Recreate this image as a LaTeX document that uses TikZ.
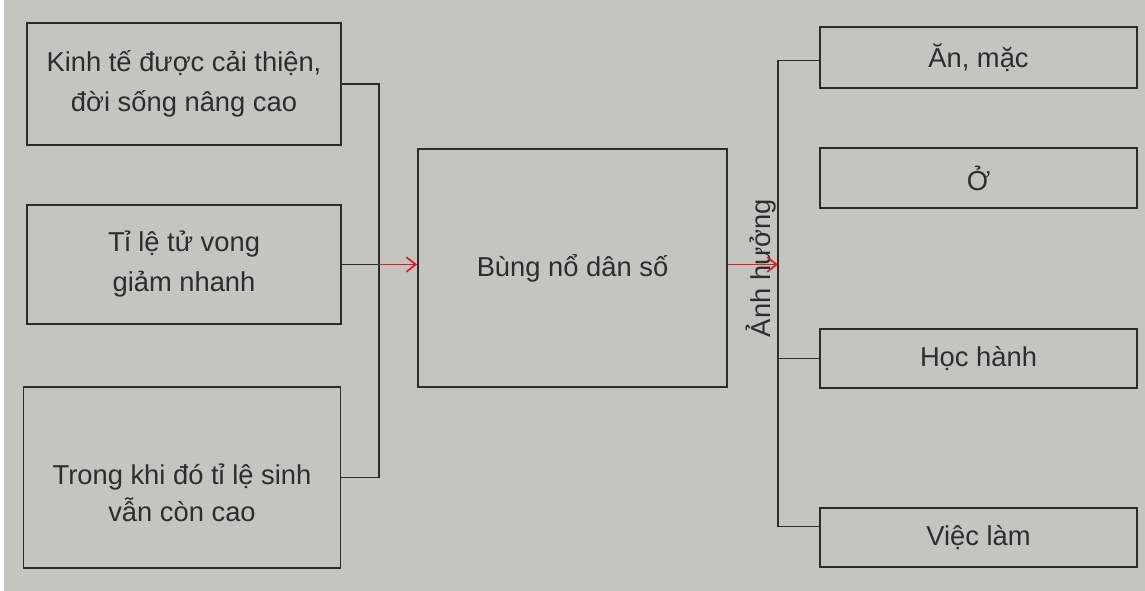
\documentclass[tikz,border=0pt]{standalone}
\usepackage{fontspec}
\setmainfont{Liberation Sans}
\usepackage{tikz}
\usetikzlibrary{calc}
\usetikzlibrary{arrows.meta}

\definecolor{paper}{RGB}{197,197,192}
\definecolor{ink}{RGB}{45,45,45}
\definecolor{arrowred}{RGB}{225,30,30}

\begin{document}
\begin{tikzpicture}[x=0.75pt,y=-0.75pt,
    box/.style 2 args={rectangle,draw=ink,line width=1.4pt,align=center,inner sep=0pt,
                minimum width=0.75pt*#1,minimum height=0.75pt*#2,
                font=\fontsize{20.5}{30}\selectfont,text=ink},
    link/.style={draw=ink,line width=1.1pt},
    push/.style={draw=arrowred,line width=1.3pt,-{Straight Barb[length=7pt,width=11pt]}}]
            % Paper background
            \fill[white] (0,0) rectangle (1145,591);
            \fill[paper] (4,0) rectangle (1145,591);
            \useasboundingbox (0,0) rectangle (1145,591);

            % Place the causes
            \node[box={314}{122}] (kinhte) at (184,84) {Kinh tế được cải thiện,\\đời sống nâng cao};
            \node[box={314}{119}] (tuvong) at (184,264.5) {Tỉ lệ tử vong\\giảm nhanh};
            \node[box={317}{181}] (tilesinh) at (182,477.5) {\raisebox{-13pt}[\height][\depth]{\begin{tabular}{@{}c@{}}Trong khi đó tỉ lệ sinh\\[-2pt]vẫn còn cao\end{tabular}}};

            % Place the center node
            \node[box={309}{238}] (bungno) at (572.5,268) {Bùng nổ dân số};
            \node[font=\fontsize{20.5}{24}\selectfont,text=ink,rotate=90,inner sep=0pt] (anhhuong) at (761,268) {Ảnh hưởng};

            % Place the effects
            \node[box={317}{61}] (anmac) at (978.5,57.5) {Ăn, mặc};
            \node[box={317}{60}] (o) at (978.5,178) {Ở};
            \node[box={317}{59}] (hoc) at (978.5,358.5) {Học hành};
            \node[box={317}{59}] (vieclam) at (978.5,537.5) {Việc làm};

            \coordinate (jl) at (379,264.5);
            \coordinate (jr) at (778,264.5);

            % The lines!
            \draw[link] (kinhte.east) -- (kinhte.east -| jl) -- (tilesinh.east -| jl) -- (tilesinh.east);
            \draw[link] (tuvong.east) -- (jl);
            \draw[push] (jl) -- (jl -| bungno.west);
            \draw[push] (jr -| bungno.east) -- (jr);
            \draw[link] ($(anmac.west)+(0,3)$) -| (jr);
            \draw[link] ($(vieclam.west)+(0,-11)$) -| (jr);
            \draw[link] ($(o.west)+(0,3)$) -- ($(o.west)+(0,3)$ -| jr);
            \draw[link] (hoc.west) -- (hoc.west -| jr);
        \end{tikzpicture}
\end{document}
